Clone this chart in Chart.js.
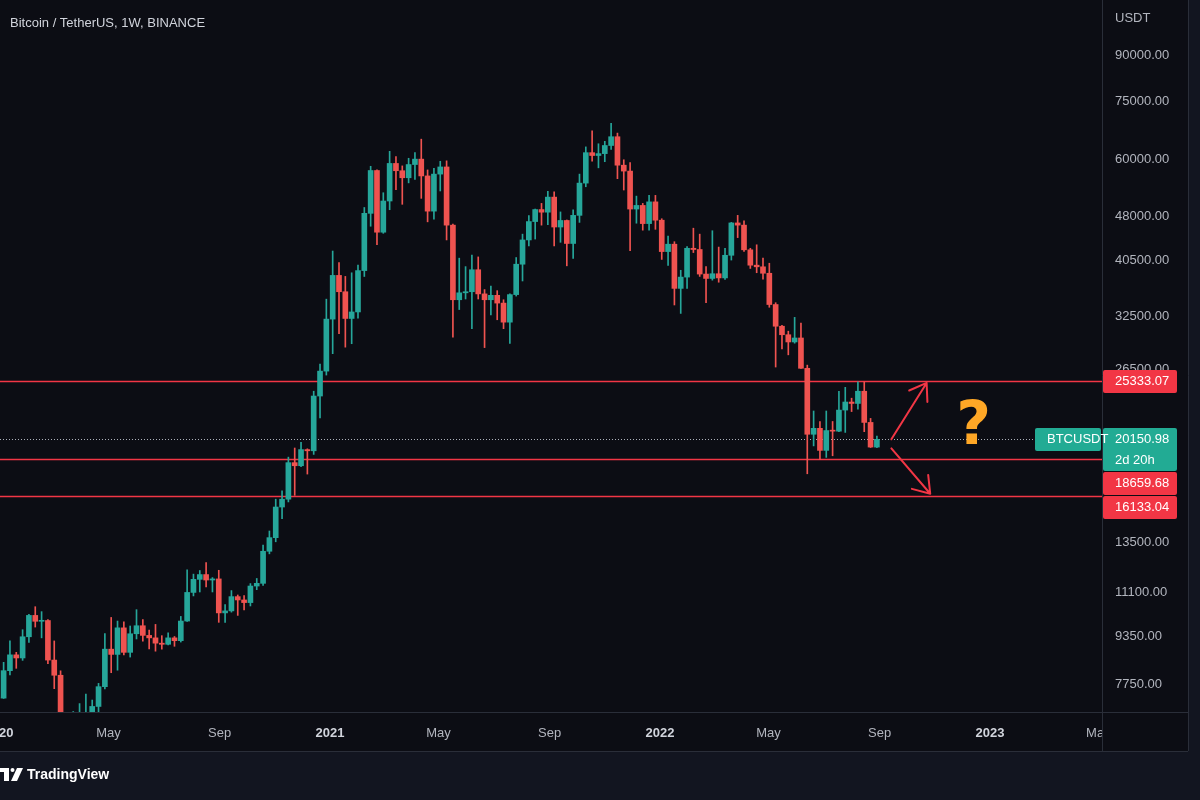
<!DOCTYPE html>
<html>
<head>
<meta charset="utf-8">
<title>BTCUSDT 1W</title>
<script src="https://cdn.jsdelivr.net/npm/chart.js@4.4.0/dist/chart.umd.min.js"></script>
<style>
  html, body { margin: 0; padding: 0; background: #0c0d14; }
  canvas { display: block; }
</style>
</head>
<body>
<canvas id="btc-chart" width="1200" height="800"></canvas>
<script>
// Binance BTCUSDT weekly candles, first week starts 2019-12-30
const firstWeek = "2019-12-30";
const opens = [
  7385, 7355, 8185, 8705, 8600, 9340, 10150, 9920, 9950, 8530,
  8040, 5360, 5830, 5880, 6780, 6900, 7120, 7690, 8900, 8720,
  9670, 8790, 9450, 9750, 9390, 9300, 9110, 9070, 9300, 9200,
  9930, 11100, 11680, 11900, 11650, 11700, 10250, 10330, 10920, 10780,
  10670, 11380, 11500, 13030, 13740, 15480, 15960, 18400, 18180, 19360,
  19270, 23850, 26280, 32180, 38150, 35800, 32260, 33090, 38870, 48580,
  57400, 45140, 50970, 59000, 57350, 55800, 58750, 60000, 56200, 49000,
  56600, 58200, 46400, 34700, 35650, 35800, 39000, 35500, 34700, 35300,
  34250, 31800, 35400, 39850, 43800, 47050, 49300, 48800, 51750, 46060,
  47250, 43200, 48200, 54650, 61530, 60850, 61300, 63270, 65470, 58600,
  57270, 49400, 50100, 46680, 50800, 47300, 41860, 43080, 36270, 37900,
  42400, 42200, 38350, 37700, 38400, 37780, 41260, 46800, 46400, 42150,
  39700, 39450, 38470, 34060, 31300, 30280, 29440, 29900, 26570, 20550,
  21030, 19300, 20850, 20800, 22580, 23300, 23170, 24300, 21520, 19550
];
const highs = [
  7690, 8455, 9195, 8790, 9600, 10190, 10500, 10300, 9990, 9190,
  8180, 6900, 6980, 7200, 7470, 7300, 7790, 9460, 10070, 9930,
  9900, 9740, 10380, 9990, 9590, 9800, 9380, 9480, 9350, 10110,
  12120, 11920, 12090, 12470, 11760, 12100, 10590, 11180, 10990, 10960,
  11490, 11720, 13350, 14100, 15960, 16480, 18800, 19480, 19920, 19420,
  24300, 27000, 34780, 41950, 40100, 38000, 38540, 39700, 49700, 58350,
  57530, 52640, 61850, 60600, 58440, 60200, 61550, 64850, 57530, 57900,
  59500, 59600, 46600, 40800, 39480, 41300, 41000, 36100, 36600, 35950,
  34700, 35500, 40900, 44800, 48150, 49400, 50500, 52920, 52800, 48850,
  47340, 49250, 56600, 62930, 67000, 63700, 64300, 69000, 66400, 59850,
  59200, 51950, 50500, 52100, 52100, 47570, 44450, 43500, 38920, 42700,
  45850, 44800, 39500, 45400, 42600, 42400, 46900, 48200, 47200, 42400,
  42980, 40800, 40000, 34300, 31400, 30700, 32400, 31700, 26900, 22500,
  21600, 22500, 21600, 24280, 24670, 23650, 25210, 25200, 21860, 20400
];
const lows = [
  6871, 7346, 8050, 8260, 8520, 9140, 9700, 9300, 8410, 7630,
  3780, 4440, 5670, 5860, 6760, 6470, 6750, 7620, 8120, 8200,
  8700, 8630, 9260, 9180, 8910, 8830, 8900, 9050, 9000, 9150,
  9920, 10950, 11120, 11340, 11120, 9880, 9880, 10280, 10150, 10370,
  10530, 11220, 11410, 12900, 13520, 14800, 15790, 16200, 18110, 17600,
  19000, 21900, 25880, 28130, 30420, 28850, 29240, 32300, 37990, 46200,
  43000, 44950, 49270, 53270, 50320, 54700, 55460, 51500, 47000, 47500,
  53000, 43800, 30000, 33400, 34800, 31000, 34800, 28800, 32700, 32100,
  31000, 29280, 35200, 37330, 42800, 43950, 46400, 46500, 42800, 43400,
  39600, 40750, 46900, 53880, 59500, 58000, 59400, 62300, 55600, 53200,
  42000, 46750, 45500, 45500, 45650, 40600, 39650, 34000, 32900, 36250,
  41700, 38000, 34300, 37450, 37150, 37550, 40500, 44200, 41900, 39200,
  38550, 37580, 33700, 26700, 28650, 28000, 29300, 26560, 17620, 19640,
  18630, 18780, 18900, 20750, 20700, 22450, 22650, 20760, 19520, 19500
];
const closes = [
  7355, 8185, 8705, 8600, 9340, 10150, 9920, 9950, 8530, 8040,
  5360, 5830, 5880, 6780, 6900, 7120, 7690, 8900, 8720, 9670,
  8790, 9450, 9750, 9390, 9300, 9110, 9070, 9300, 9200, 9930,
  11100, 11680, 11900, 11650, 11700, 10250, 10330, 10920, 10780, 10670,
  11380, 11500, 13030, 13740, 15480, 15960, 18400, 18180, 19360, 19270,
  23850, 26280, 32180, 38150, 35800, 32260, 33090, 38870, 48580, 57400,
  45140, 50970, 59000, 57350, 55800, 58750, 60000, 56200, 49000, 56600,
  58200, 46400, 34700, 35650, 35800, 39000, 35500, 34700, 35300, 34250,
  31800, 35400, 39850, 43800, 47050, 49300, 48800, 51750, 46060, 47250,
  43200, 48200, 54650, 61530, 60850, 61300, 63270, 65470, 58600, 57270,
  49400, 50100, 46680, 50800, 47300, 41860, 43080, 36270, 37900, 42400,
  42200, 38350, 37700, 38400, 37780, 41260, 46800, 46400, 42150, 39700,
  39450, 38470, 34060, 31300, 30280, 29440, 29900, 26570, 20550, 21030,
  19300, 20850, 20800, 22580, 23300, 23170, 24300, 21520, 19550, 20150.98
];

const priceTicks = [7750, 9350, 11100, 13500, 26500, 32500, 40500, 48000, 60000, 75000, 90000];
const timeTickDates = ["2020-01-01", "2020-05-01", "2020-09-01", "2021-01-01", "2021-05-01", "2021-09-01",
  "2022-01-01", "2022-05-01", "2022-09-01", "2023-01-01", "2023-05-01"];
const timeTickLabels = ["2020", "May", "Sep", "2021", "May", "Sep", "2022", "May", "Sep", "2023", "May"];

// horizontal levels drawn on the chart
const levels = [25333.07, 18659.68, 16133.04];
const lastPrice = 20150.98;
const countdown = "2d 20h";
const symbol = "BTCUSDT";
// hand drawn arrows and question mark, in [day, price]
const arrowUp = [[987, 20150], [1026, 25100]];
const arrowDown = [[987, 19450], [1030, 16300]];
const questionAt = [1078, 21200];

const UP = "#26a69a", DOWN = "#ef5350", LEVEL = "#f23645", TAG_GREEN = "#22ab94";
const FONT = '"Liberation Sans", Arial, sans-serif';
const BG = "#0c0d14", BG2 = "#121520";

const dayOf = (s) => (Date.parse(s) - Date.parse("2020-01-01")) / 86400000;
const weekDays = closes.map((_, i) => dayOf(firstWeek) + 7 * i);
const candleColors = closes.map((c, i) => (c >= opens[i] ? UP : DOWN));
const timeTickDays = timeTickDates.map(dayOf);
const isYear = (i) => /^\d{4}$/.test(timeTickLabels[i] || "");

function tag(ctx, x, top, w, h, bg, lines) {
  ctx.fillStyle = bg;
  ctx.beginPath();
  ctx.roundRect(x, top, w, h, 2);
  ctx.fill();
  ctx.fillStyle = "#ffffff";
  ctx.font = "13px " + FONT;
  ctx.textBaseline = "middle";
  ctx.textAlign = "left";
  lines.forEach((t, k) => ctx.fillText(t, x + 12, top + 11.5 + k * 21));
}

function arrow(ctx, x1, y1, x2, y2) {
  const ang = Math.atan2(y2 - y1, x2 - x1);
  ctx.beginPath();
  ctx.moveTo(x1, y1);
  ctx.lineTo(x2, y2);
  for (const s of [-1, 1]) {
    ctx.moveTo(x2, y2);
    ctx.lineTo(x2 - 19 * Math.cos(ang + s * 0.6), y2 - 19 * Math.sin(ang + s * 0.6));
  }
  ctx.stroke();
}

const decorations = {
  id: "decorations",
  beforeDraw(chart) {
    const ctx = chart.ctx;
    ctx.save();
    ctx.fillStyle = BG;
    ctx.fillRect(0, 0, chart.width, chart.height);
    ctx.fillStyle = BG2;
    ctx.fillRect(0, 751, chart.width, 49);
    ctx.fillRect(1188, 0, 12, 751);
    ctx.restore();
  },
  beforeDatasetsDraw(chart) {
    const {ctx, chartArea: a, scales: {y}} = chart;
    ctx.save();
    ctx.strokeStyle = LEVEL;
    ctx.lineWidth = 1.5;
    levels.forEach((v) => {
      const py = Math.round(y.getPixelForValue(v)) + 0.5;
      ctx.beginPath();
      ctx.moveTo(a.left, py);
      ctx.lineTo(a.right, py);
      ctx.stroke();
    });
    const ly = Math.round(y.getPixelForValue(lastPrice)) + 0.5;
    ctx.strokeStyle = "rgba(190,194,204,0.9)";
    ctx.lineWidth = 1;
    ctx.setLineDash([1, 2]);
    ctx.beginPath();
    ctx.moveTo(a.left, ly);
    ctx.lineTo(1035, ly);
    ctx.stroke();
    ctx.restore();
  },
  afterDraw(chart) {
    const {ctx, chartArea: a, scales: {x, y}} = chart;
    ctx.save();

    // clip time labels that run past the plot
    ctx.fillStyle = BG;
    ctx.fillRect(a.right + 1, a.bottom + 1, 1188 - a.right - 1, 38);

    // frame lines
    ctx.strokeStyle = "#2a2e39";
    ctx.lineWidth = 1;
    ctx.beginPath();
    ctx.moveTo(a.right + 0.5, 0); ctx.lineTo(a.right + 0.5, 751);
    ctx.moveTo(0, a.bottom + 0.5); ctx.lineTo(1188, a.bottom + 0.5);
    ctx.moveTo(0, 751.5); ctx.lineTo(1188, 751.5);
    ctx.moveTo(1188.5, 0); ctx.lineTo(1188.5, 751);
    ctx.stroke();

    // arrows and question mark
    ctx.strokeStyle = LEVEL;
    ctx.lineWidth = 2;
    ctx.lineCap = "round";
    [arrowUp, arrowDown].forEach(([p, q]) => {
      arrow(ctx, x.getPixelForValue(p[0]), y.getPixelForValue(p[1]),
        x.getPixelForValue(q[0]), y.getPixelForValue(q[1]));
    });
    ctx.fillStyle = "#ffa726";
    ctx.font = 'bold 60px "DejaVu Sans", sans-serif';
    ctx.textAlign = "center";
    ctx.textBaseline = "middle";
    ctx.fillText("?", x.getPixelForValue(questionAt[0]), y.getPixelForValue(questionAt[1]) + 2);

    // price tags on the axis, stacked so they do not overlap
    const tags = [
      {top: y.getPixelForValue(levels[0]) - 11, h: 23, bg: LEVEL, lines: [levels[0].toFixed(2)]},
      {top: y.getPixelForValue(lastPrice) - 11, h: 43, bg: TAG_GREEN, lines: [lastPrice.toFixed(2), countdown]},
      {top: y.getPixelForValue(levels[1]) - 11, h: 23, bg: LEVEL, lines: [levels[1].toFixed(2)]},
      {top: y.getPixelForValue(levels[2]) - 11, h: 23, bg: LEVEL, lines: [levels[2].toFixed(2)]}
    ].sort((p, q) => p.top - q.top);
    let floor = -Infinity;
    tags.forEach((t) => {
      t.top = Math.max(Math.round(t.top), floor);
      floor = t.top + t.h + 1;
      tag(ctx, a.right + 1, t.top, 74, t.h, t.bg, t.lines);
    });
    const ly = Math.round(y.getPixelForValue(lastPrice));
    tag(ctx, 1035, ly - 11, 66, 23, TAG_GREEN, [symbol]);

    // header texts
    ctx.fillStyle = "#d1d4dc";
    ctx.font = "13px " + FONT;
    ctx.textAlign = "left";
    ctx.textBaseline = "middle";
    ctx.fillText("Bitcoin / TetherUS, 1W, BINANCE", 10, 23);
    ctx.fillStyle = "#b2b5be";
    ctx.fillText("USDT", 1115, 18);

    // TradingView mark
    ctx.fillStyle = "#ffffff";
    ctx.fillRect(0, 768, 9, 4);
    ctx.fillRect(4, 768, 5, 13);
    ctx.beginPath();
    ctx.arc(12.5, 770, 2, 0, Math.PI * 2);
    ctx.fill();
    ctx.beginPath();
    ctx.moveTo(17, 768); ctx.lineTo(23, 768); ctx.lineTo(17, 781); ctx.lineTo(11, 781);
    ctx.closePath();
    ctx.fill();
    ctx.font = "bold 14px " + FONT;
    ctx.fillText("TradingView", 27, 775);
    ctx.restore();
  }
};

const ctx = document.getElementById("btc-chart").getContext("2d");
const btcChart = new Chart(ctx, {
  type: "bar",
  data: {
    datasets: [
      {
        label: "body",
        data: weekDays.map((d, i) => ({x: d, y: [opens[i], closes[i]]})),
        backgroundColor: candleColors,
        barThickness: 5,
        minBarLength: 1,
        grouped: false,
        borderWidth: 0,
        order: 0
      },
      {
        label: "wick",
        data: weekDays.map((d, i) => ({x: d, y: [lows[i], highs[i]]})),
        backgroundColor: candleColors,
        barThickness: 1,
        grouped: false,
        borderWidth: 0,
        order: 1
      }
    ]
  },
  options: {
    responsive: false,
    animation: false,
    devicePixelRatio: 1,
    layout: {padding: 0},
    plugins: {
      legend: {display: false},
      tooltip: {enabled: false}
    },
    scales: {
      x: {
        type: "linear",
        min: 1,
        max: 1220,
        offset: false,
        grid: {display: false, drawTicks: false},
        border: {display: false},
        afterBuildTicks: (s) => { s.ticks = timeTickDays.map((v) => ({value: v})); },
        afterFit: (s) => { s.height = 88; s.paddingLeft = 0; s.paddingRight = 0; },
        ticks: {
          autoSkip: false,
          maxRotation: 0,
          padding: 14,
          color: (c) => (isYear(c.index) ? "#d1d4dc" : "#b2b5be"),
          font: (c) => ({family: FONT, size: 13, weight: isYear(c.index) ? "bold" : "normal"}),
          callback: (v, i) => timeTickLabels[i]
        }
      },
      y: {
        type: "logarithmic",
        position: "right",
        min: 6968,
        max: 111500,
        bounds: "data",
        grid: {display: false, drawTicks: false},
        border: {display: false},
        afterBuildTicks: (s) => { s.ticks = priceTicks.map((v) => ({value: v})); },
        afterFit: (s) => { s.width = 98; s.paddingTop = 0; s.paddingBottom = 0; },
        ticks: {
          autoSkip: false,
          padding: 13,
          color: "#b2b5be",
          font: {family: FONT, size: 13},
          callback: (v) => Number(v).toFixed(2)
        }
      }
    }
  },
  plugins: [decorations]
});
</script>
</body>
</html>
